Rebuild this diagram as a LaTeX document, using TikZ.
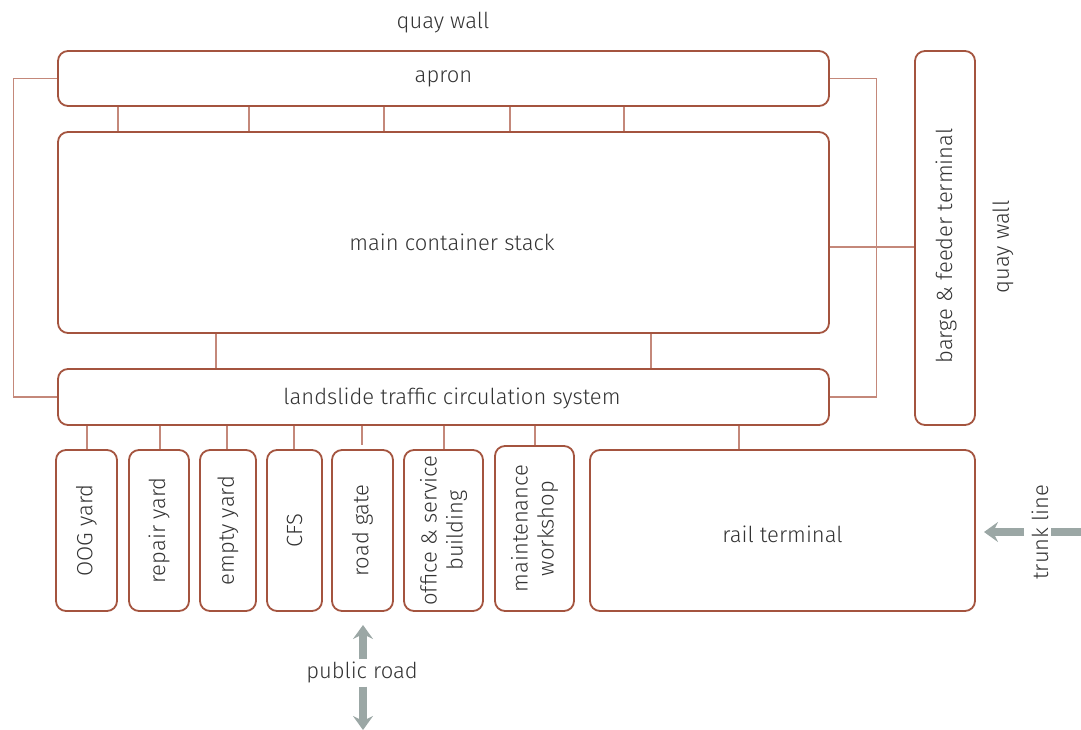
\documentclass[tikz,border=0pt]{standalone}
\usepackage{fontspec}
\setmainfont{Fira Sans Light}
\usetikzlibrary{arrows.meta}
\definecolor{rust}{HTML}{A4543F}
\definecolor{conn}{HTML}{C4887A}
\definecolor{txt}{HTML}{333333}
\definecolor{arr}{HTML}{9BA7A5}
\begin{document}
\begin{tikzpicture}[x=1pt,y=-1pt,
  box/.style={draw=rust, line width=1.8pt, rounded corners=10pt, inner sep=0pt},
  conline/.style={draw=conn, line width=1.1pt},
  lbl/.style={text=txt, font=\fontsize{22}{26}\selectfont, inner sep=0pt, align=center},
  bigarrow/.style={draw=arr, line width=8pt, -{Stealth[length=14pt,width=20pt,inset=5pt]}}]
\useasboundingbox (0,0) rectangle (1081,730);
% top label
\node[lbl] (qtop) at (443,23) {quay wall};
% main boxes
\node[box, minimum width=771pt, minimum height=55pt] (apron) at (443.5,78.5) {};
\node[lbl] (apronlbl) at (443.5,79) {apron};
\node[box, minimum width=771pt, minimum height=201pt] (stack) at (443.5,232.5) {};
\node[lbl] (stacklbl) at (452,242) {main container stack};
\node[box, minimum width=771pt, minimum height=56pt] (land) at (443.5,397) {};
\node[lbl] (landlbl) at (452,398) {landslide traffic circulation system};
\node[box, minimum width=60pt, minimum height=374pt] (barge) at (945,238) {};
\node[lbl, rotate=90] (bargelbl) at (946,246) {barge \& feeder terminal};
\node[lbl, rotate=90] (qright) at (1003,247) {quay wall};
% small boxes
\node[box, minimum width=61pt, minimum height=161pt] (oog) at (86.5,530.5) {};
\node[lbl, rotate=90] at (oog) {OOG yard};
\node[box, minimum width=60pt, minimum height=161pt] (repair) at (159,530.5) {};
\node[lbl, rotate=90] at (repair) {repair yard};
\node[box, minimum width=56pt, minimum height=161pt] (empty) at (228,530.5) {};
\node[lbl, rotate=90] at (empty) {empty yard};
\node[box, minimum width=55pt, minimum height=161pt] (cfs) at (294.5,530.5) {};
\node[lbl, rotate=90] at (cfs) {CFS};
\node[box, minimum width=61pt, minimum height=161pt] (gate) at (362.5,530.5) {};
\node[lbl, rotate=90] at (gate) {road gate};
\node[box, minimum width=79pt, minimum height=161pt] (office) at (443.5,530.5) {};
\node[lbl, rotate=90] at (office) {office \& service\\building};
\node[box, minimum width=79pt, minimum height=165pt] (maint) at (534.5,528.5) {};
\node[lbl, rotate=90] at (maint) {maintenance\\workshop};
\node[box, minimum width=385pt, minimum height=161pt] (rail) at (782.5,530.5) {};
\node[lbl] at (782.5,534) {rail terminal};
% apron - stack connectors
\foreach \x in {118,249,384,510,624}
  \draw[conline] (\x,0 |- apron.south) -- (\x,0 |- stack.north);
% stack - land connectors
\foreach \x in {216,651}
  \draw[conline] (\x,0 |- stack.south) -- (\x,0 |- land.north);
% left loop
\draw[conline] (apron.west) -- ++(-44,0) |- (land.west);
% right loop
\draw[conline] (apron.east) -- ++(47,0) |- (land.east);
\draw[conline] (stack.east |- 0,247) -- (barge.west |- 0,247);
% land to small boxes
\draw[conline] (87,0 |- land.south) -- (87,0 |- oog.north);
\draw[conline] (160,0 |- land.south) -- (160,0 |- repair.north);
\draw[conline] (227,0 |- land.south) -- (227,0 |- empty.north);
\draw[conline] (294,0 |- land.south) -- (294,0 |- cfs.north);
\coordinate (gatetop) at (362,445);
\draw[conline] (362,0 |- land.south) -- (gatetop);
\draw[conline] (444,0 |- land.south) -- (444,0 |- office.north);
\draw[conline] (535,0 |- land.south) -- (535,0 |- maint.north);
\draw[conline] (739,0 |- land.south) -- (739,0 |- rail.north);
% public road
\node[lbl] (road) at (362,672) {public road};
\coordinate (roadup) at (363,625);
\coordinate (roaddown) at (363,730);
\draw[bigarrow] (road.north -| roadup) ++(0,-2) -- (roadup);
\draw[bigarrow] (road.south -| roaddown) ++(0,4) -- (roaddown);
% trunk line
\node[lbl, rotate=90] (trunk) at (1040,532) {trunk line};
\coordinate (trunkleft) at (984,532);
\coordinate (trunkright) at (1095,532);
\coordinate (tl0) at (1024,532);
\coordinate (tr0) at (1051,532);
\draw[bigarrow] (tl0) -- (trunkleft);
\draw[bigarrow] (tr0) -- (trunkright);
\end{tikzpicture}
\end{document}
